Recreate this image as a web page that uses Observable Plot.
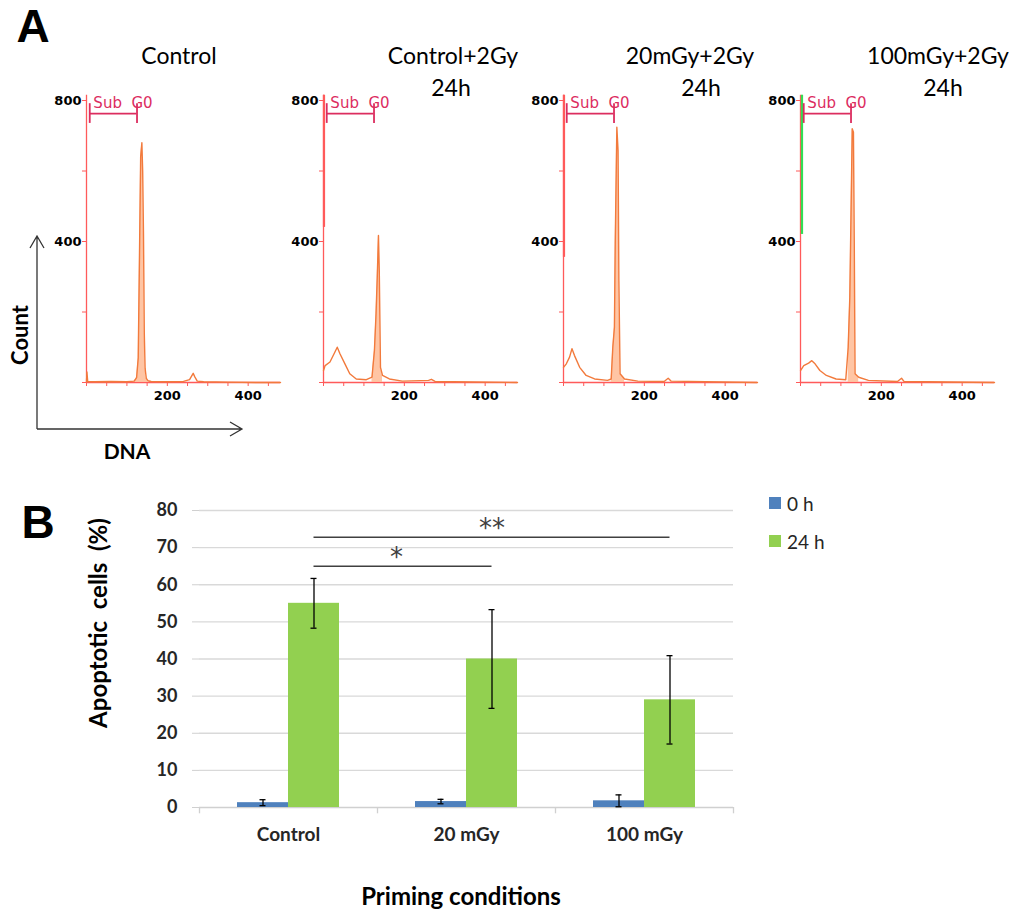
<!DOCTYPE html>
<html>
<head>
<meta charset="utf-8">
<script src="https://cdn.jsdelivr.net/npm/d3@7"></script>
<script src="https://cdn.jsdelivr.net/npm/@observablehq/plot@0.6"></script>
<style>
  html, body { margin: 0; padding: 0; background: #fff; }
  #fig { position: relative; width: 1024px; height: 919px; overflow: hidden; background: #fff; }
  .abs { position: absolute; }
  .lbl { position: absolute; transform: translate(-50%, -50%); white-space: nowrap; color: #000; line-height: 1; }
</style>
</head>
<body>
<div id="fig"></div>
<script>
// ---------------- Panel A data (DNA histograms) ----------------
const panelTitles = ["Control", "Control+2Gy", "20mGy+2Gy", "100mGy+2Gy"];
const panelSubtitles = ["", "24h", "24h", "24h"];
const countTicks = [0, 200, 400, 600, 800];
const countTickLabels = [400, 800];
const dnaTicks = [0, 50, 100, 150, 200, 250, 300, 350, 400, 450];
const dnaTickLabels = [200, 400];
const gateSubG0 = [8, 125];      // Sub G0 gate limits (DNA)
const gateLevel = 763;           // count level of gate bar
const peakRange = [115, 155];    // G0/G1 peak region (shaded)

const dnaControl   = [0, 1, 3, 20, 60, 100, 118, 124, 128, 131, 134, 137, 139, 141, 143, 145, 148, 152, 160, 200, 240, 255, 260, 264, 268, 274, 290, 350, 420, 480];
const countControl = [2, 30, 3, 2, 3, 2, 4, 14, 70, 350, 640, 680, 600, 420, 140, 40, 12, 5, 3, 2, 3, 8, 18, 26, 16, 4, 2, 1, 0, 0];

const dnaCtrl2Gy   = [0, 4, 16, 28, 34, 41, 53, 65, 81, 106, 120, 126, 130, 133, 136, 138, 141, 146, 163, 195, 260, 267, 276, 480];
const countCtrl2Gy = [34, 48, 58, 86, 100, 81, 53, 25, 10, 8, 15, 91, 195, 299, 417, 318, 43, 20, 10, 4, 6, 9, 3, 0];

const dna20mGy     = [0, 7, 15, 21, 27, 40, 56, 77, 109, 118, 122, 126, 128, 132, 135, 137, 140, 151, 184, 249, 259, 266, 480];
const count20mGy   = [43, 53, 72, 96, 77, 43, 20, 10, 6, 10, 100, 157, 393, 724, 658, 289, 25, 10, 4, 3, 12, 4, 0];

const dna100mGy    = [0, 8, 20, 28, 36, 48, 64, 88, 112, 118, 122, 125, 128, 131, 133, 135, 144, 168, 240, 250, 256, 480];
const count100mGy  = [34, 48, 55, 62, 53, 34, 20, 10, 8, 100, 242, 478, 720, 710, 403, 25, 15, 6, 3, 12, 3, 0];

const edgeSpikeFrom = [null, 440, 355, 420];   // off-scale events piled at DNA = 0
const edgeSpikeColor = ["#ff5a5a", "#ff5a5a", "#ff5a5a", "#33dd55"];

// ---------------- Panel B data (apoptotic cells) ----------------
const categories = ["Control", "20 mGy", "100 mGy"];
const seriesNames = ["0 h", "24 h"];
const apoptotic0h = [1.3, 1.6, 1.8];
const apoptotic0hErr = [0.8, 0.6, 1.6];
const apoptotic24h = [55, 40, 29];
const apoptotic24hErr = [6.7, 13.3, 11.9];
const yTicks = [0, 10, 20, 30, 40, 50, 60, 70, 80];
const sigFrom = ["Control", "Control"];
const sigTo = ["20 mGy", "100 mGy"];
const sigLevel = [65, 72.8];
const sigLabel = ["*", "**"];
const sigLabelLevel = [67.2, 75.2];

// ---------------- build page ----------------
const fig = document.getElementById("fig");
const RED = "#ff5a5a", ORANGE = "#f27a3c", GATE = "#dc2d5f", PEAKFILL = "#ffbf9a";
const BLUE = "#4f81bd", GREEN = "#92d050";

function addLabel(text, x, y, style) {
  const d = document.createElement("div");
  d.className = "lbl";
  d.textContent = text;
  d.style.left = x + "px";
  d.style.top = y + "px";
  Object.assign(d.style, style || {});
  fig.appendChild(d);
  return d;
}

// Histograms
const histDna = [dnaControl, dnaCtrl2Gy, dna20mGy, dna100mGy];
const histCount = [countControl, countCtrl2Gy, count20mGy, count100mGy];
const panelLeft = [46, 283, 523, 760];

for (let p = 0; p < 4; p++) {
  const rows = histDna[p].map((x, i) => ({dna: x, count: histCount[p][i]}));
  const peakRows = rows.filter(d => d.dna >= peakRange[0] && d.dna <= peakRange[1]);
  const marks = [
    Plot.ruleY([0], {stroke: RED, strokeWidth: 1.3}),
    Plot.ruleX([0], {y1: 0, y2: 815, stroke: RED, strokeWidth: 1.3}),
  ];
  if (edgeSpikeFrom[p] != null) {
    marks.push(Plot.ruleX([0], {y1: edgeSpikeFrom[p], y2: 815, stroke: edgeSpikeColor[p], strokeWidth: 2.2, dx: p === 3 ? 1.5 : 0.5}));
  }
  marks.push(
    Plot.axisY({ticks: countTicks, tickFormat: d => countTickLabels.includes(d) ? d : "",
      tickSize: 4, tickPadding: 1, stroke: RED, fill: "#000", fontSize: 13, fontWeight: "bold",
      fontFamily: "DejaVu Sans", label: null}),
    Plot.axisX({ticks: dnaTicks, tickFormat: d => dnaTickLabels.includes(d) ? d : "",
      tickSize: 4, tickPadding: 4, stroke: RED, fill: "#000", fontSize: 13, fontWeight: "bold",
      fontFamily: "DejaVu Sans", label: null}),
    Plot.areaY(peakRows, {x: "dna", y: "count", fill: PEAKFILL, fillOpacity: 0.9}),
    Plot.line(rows, {x: "dna", y: "count", stroke: ORANGE, strokeWidth: 1.4}),
    Plot.ruleY([gateLevel], {x1: gateSubG0[0], x2: gateSubG0[1], stroke: GATE, strokeWidth: 1.8}),
    Plot.ruleX(gateSubG0, {x: d => d, y1: gateLevel - 28, y2: gateLevel + 28, stroke: GATE, strokeWidth: 1.8}),
    Plot.text(["Sub\u00a0 G0"], {x: 17, y: 780, text: d => d, textAnchor: "start", lineAnchor: "bottom",
      fill: GATE, fontSize: 15, fontFamily: "DejaVu Sans"})
  );
  const svg = Plot.plot({
    width: 240, height: 340,
    marginLeft: 40, marginRight: 6, marginTop: 20, marginBottom: 38,
    x: {domain: [0, 480]},
    y: {domain: [0, 800]},
    style: {overflow: "visible", background: "transparent"},
    marks
  });
  svg.classList.add("abs");
  svg.style.left = panelLeft[p] + "px";
  svg.style.top = "80px";
  fig.appendChild(svg);
}

// Titles panel A
const titleX = [179, 453, 690, 938];
const subX = [179, 451, 701, 943];
for (let p = 0; p < 4; p++) {
  addLabel(panelTitles[p], titleX[p], 55, {font: "23px Lato"});
  if (panelSubtitles[p]) addLabel(panelSubtitles[p], subX[p], 87, {font: "23px Lato"});
}

// Count / DNA arrows
const ns = "http://www.w3.org/2000/svg";
const arr = document.createElementNS(ns, "svg");
arr.setAttribute("width", 260); arr.setAttribute("height", 440);
arr.classList.add("abs"); arr.style.left = "0px"; arr.style.top = "0px";
arr.innerHTML = '<g fill="none" stroke="#333" stroke-width="1.3">' +
  '<path d="M37,429 V236 M30,248 L37,236 L44,248"/>' +
  '<path d="M37,429 H242 M230,422 L242,429 L230,436"/></g>';
fig.appendChild(arr);
addLabel("Count", 19, 335, {font: "bold 22px Lato", transform: "translate(-50%,-50%) rotate(-90deg)"});
addLabel("DNA", 127, 450, {font: "bold 21px Lato"});

// Panel letters
addLabel("A", 33, 26, {font: "bold 46px 'Liberation Sans'"});
addLabel("B", 38, 522, {font: "bold 46px 'Liberation Sans'"});

// ---------------- Bar chart ----------------
const rows0 = categories.map((c, i) => ({cat: c, series: seriesNames[0], value: apoptotic0h[i], err: apoptotic0hErr[i]}));
const rows24 = categories.map((c, i) => ({cat: c, series: seriesNames[1], value: apoptotic24h[i], err: apoptotic24hErr[i]}));
const sig = sigFrom.map((f, i) => ({from: f, to: sigTo[i], y: sigLevel[i], label: sigLabel[i], ly: sigLabelLevel[i]}));

const bar = Plot.plot({
  width: 760, height: 439,
  marginLeft: 199, marginRight: 27, marginTop: 30, marginBottom: 112,
  x: {domain: categories, padding: 0},
  y: {domain: [0, 80]},
  style: {overflow: "visible", background: "transparent", fontFamily: "Lato"},
  marks: [
    Plot.gridY({ticks: yTicks.slice(1), stroke: "#d9d9d9", strokeOpacity: 1, strokeWidth: 1.3}),
    Plot.ruleY([0], {stroke: "#d0d0d0", strokeWidth: 1.3}),
    Plot.axisY({ticks: yTicks, tickSize: 7, tickPadding: 15, stroke: "#d0d0d0", line: true,
      fill: "#262626", fontSize: 18, fontWeight: "bold", label: null}),
    Plot.axisX({tickSize: 0, tickPadding: 20, fill: "#262626", fontSize: 19, fontWeight: "bold", label: null}),
    Plot.ruleX(categories, {x: d => d, dx: -89, y1: 0, y2: -1.7, stroke: "#d0d0d0", strokeWidth: 1.3}),
    Plot.ruleX([categories[categories.length - 1]], {x: d => d, dx: 89, y1: 0, y2: -1.7, stroke: "#d0d0d0", strokeWidth: 1.3}),
    Plot.barY(rows0, {x: "cat", y: "value", fill: BLUE, insetLeft: 38, insetRight: 89}),
    Plot.barY(rows24, {x: "cat", y: "value", fill: GREEN, insetLeft: 89, insetRight: 38}),
    Plot.ruleX(rows0, {x: "cat", y1: d => d.value - d.err, y2: d => d.value + d.err, dx: -25.5, stroke: "#000", strokeWidth: 1.3}),
    Plot.tickY(rows0, {x: "cat", y: d => d.value - d.err, dx: -25.5, insetLeft: 86, insetRight: 86, stroke: "#000", strokeWidth: 1.3}),
    Plot.tickY(rows0, {x: "cat", y: d => d.value + d.err, dx: -25.5, insetLeft: 86, insetRight: 86, stroke: "#000", strokeWidth: 1.3}),
    Plot.ruleX(rows24, {x: "cat", y1: d => d.value - d.err, y2: d => d.value + d.err, dx: 25.5, stroke: "#000", strokeWidth: 1.3}),
    Plot.tickY(rows24, {x: "cat", y: d => d.value - d.err, dx: 25.5, insetLeft: 86, insetRight: 86, stroke: "#000", strokeWidth: 1.3}),
    Plot.tickY(rows24, {x: "cat", y: d => d.value + d.err, dx: 25.5, insetLeft: 86, insetRight: 86, stroke: "#000", strokeWidth: 1.3}),
    Plot.ruleY(sig, {y: "y", x1: "from", x2: "to", insetLeft: 114.5, insetRight: 63.5, stroke: "#404040", strokeWidth: 1.6}),
    Plot.text([sig[0]], {x: () => categories[1], y: "ly", text: "label", dx: -70, fontSize: 26, fontFamily: "DejaVu Sans", fill: "#404040"}),
    Plot.text([sig[1]], {x: () => categories[1], y: "ly", text: "label", dx: 25.5, fontSize: 26, fontFamily: "DejaVu Sans", fill: "#404040"})
  ]
});
bar.classList.add("abs");
bar.style.left = "0px";
bar.style.top = "480px";
fig.appendChild(bar);

addLabel("Apoptotic\u00a0 cells\u00a0 (%)", 97, 623, {font: "bold 24px Lato", transform: "translate(-50%,-50%) rotate(-90deg)"});
addLabel("Priming conditions", 461, 895, {font: "bold 24px Lato"});

// Legend
const legendColors = [BLUE, GREEN];
const legendY = [503, 541];
seriesNames.forEach((s, i) => {
  const sw = document.createElement("div");
  sw.className = "abs";
  Object.assign(sw.style, {left: "769px", top: (legendY[i] - 6) + "px", width: "12px", height: "12px", background: legendColors[i]});
  fig.appendChild(sw);
  addLabel(s, 787, legendY[i], {font: "19px Lato", color: "#262626", transform: "translate(0,-50%)"});
});
</script>
</body>
</html>
